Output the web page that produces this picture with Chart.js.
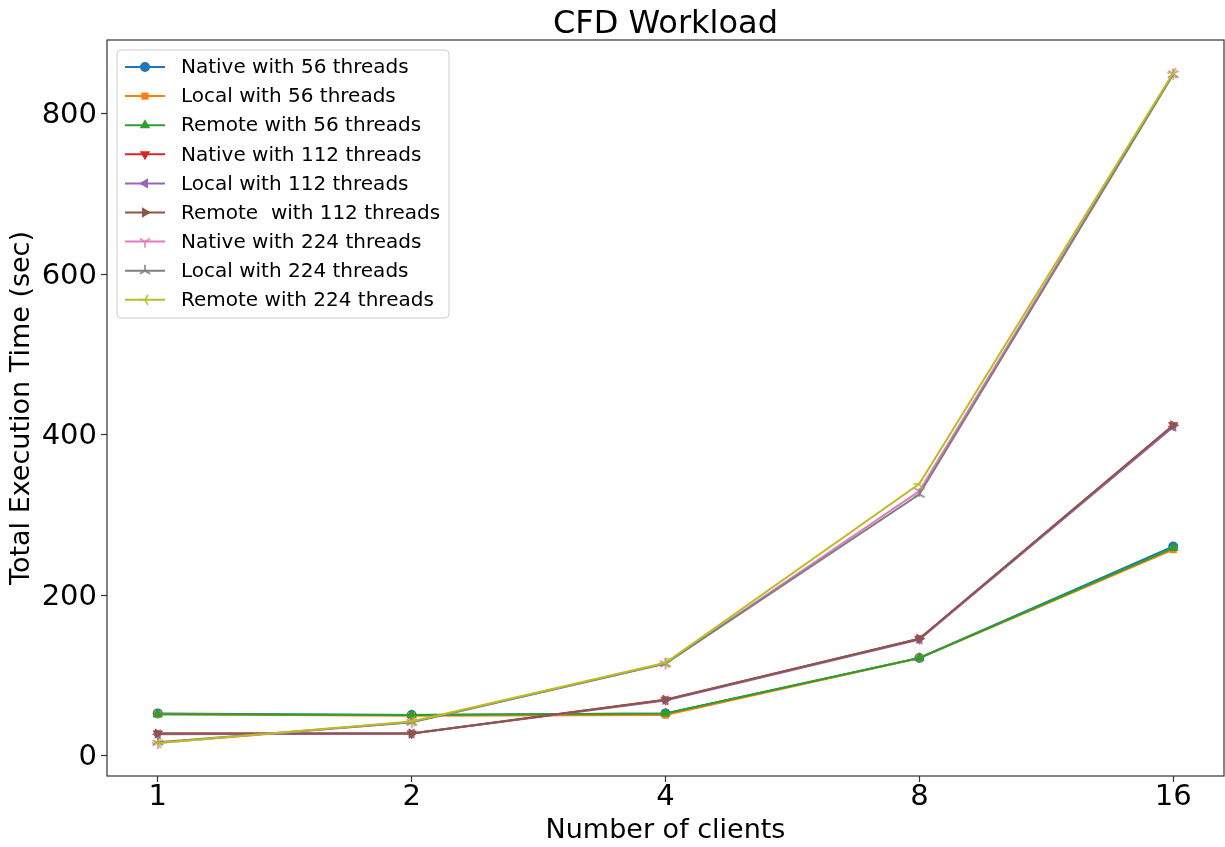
<!DOCTYPE html>
<html>
<head>
<meta charset="utf-8">
<script src="https://cdn.jsdelivr.net/npm/chart.js@4/dist/chart.umd.min.js"></script>
<style>
html,body{margin:0;padding:0;background:#fff;}
#wrap{width:1225px;height:847px;}
</style>
</head>
<body>
<div id="wrap"><canvas id="c" width="1225" height="847"></canvas></div>
<script>
const categories = ['1', '2', '4', '8', '16'];
const yTicks = [0, 200, 400, 600, 800];
const seriesLabels = [
  'Native with 56 threads', 'Local with 56 threads', 'Remote with 56 threads',
  'Native with 112 threads', 'Local with 112 threads', 'Remote  with 112 threads',
  'Native with 224 threads', 'Local with 224 threads', 'Remote with 224 threads'
];
const native56  = [53, 51, 53, 122, 261];
const local56   = [52, 50, 51, 122, 257];
const remote56  = [52, 51, 53, 122, 259];
const native112 = [28, 28, 70, 146, 412];
const local112  = [27, 28, 69, 145, 410];
const remote112 = [28, 28, 70, 146, 412];
const native224 = [16, 42, 115, 330, 850];
const local224  = [17, 42, 115, 326, 849];
const remote224 = [16, 43, 116, 339, 851];

const seriesValues = [native56, local56, remote56, native112, local112, remote112, native224, local224, remote224];
const colors = ['#1f77b4','#ff7f0e','#2ca02c','#d62728','#9467bd','#8c564b','#e377c2','#7f7f7f','#bcbd22'];

function triCanvas(color, dir) {
  const s = 16, c = document.createElement('canvas');
  c.width = s; c.height = s;
  const g = c.getContext('2d');
  g.strokeStyle = color; g.lineWidth = 1.5; g.lineCap = 'butt';
  const cx = s/2, cy = s/2, r = 6;
  let angles;
  if (dir === 'down') angles = [90, 210, 330];
  else if (dir === 'up') angles = [270, 30, 150];
  else angles = [180, 300, 60];
  g.beginPath();
  angles.forEach(a => {
    const rad = a * Math.PI / 180;
    g.moveTo(cx, cy);
    g.lineTo(cx + r*Math.cos(rad), cy + r*Math.sin(rad));
  });
  g.stroke();
  return c;
}

const markers = [
  {style:'circle', rot:0, r:5},
  {style:'rect', rot:0, r:5},
  {style:'triangle', rot:0, r:6},
  {style:'triangle', rot:180, r:6},
  {style:'triangle', rot:-90, r:6},
  {style:'triangle', rot:90, r:6},
  {style:triCanvas(colors[6],'down'), rot:0, r:6},
  {style:triCanvas(colors[7],'up'), rot:0, r:6},
  {style:triCanvas(colors[8],'left'), rot:0, r:6}
];

const datasets = seriesValues.map((vals, i) => ({
  label: seriesLabels[i],
  data: vals.map((v, j) => ({x: j, y: v})),
  borderColor: colors[i],
  backgroundColor: colors[i],
  borderWidth: 2,
  pointStyle: markers[i].style,
  rotation: markers[i].rot,
  pointRadius: markers[i].r,
  pointBorderWidth: 0,
  pointBackgroundColor: colors[i],
  pointBorderColor: colors[i],
  tension: 0,
  fill: false,
  order: seriesValues.length - i
}));

const FONT = "'DejaVu Sans', sans-serif";

const framePlugin = {
  id: 'frame',
  afterDatasetsDraw(chart) {
    const {ctx, chartArea: a} = chart;
    ctx.save();
    ctx.strokeStyle = '#333';
    ctx.lineWidth = 1.2;
    ctx.strokeRect(a.left, a.top, a.right - a.left, a.bottom - a.top);
    ctx.restore();
  },
  afterDraw(chart) {
    const {ctx, chartArea: a} = chart;
    ctx.save();
    ctx.fillStyle = '#000';
    ctx.font = "32px " + FONT;
    ctx.textAlign = 'center';
    ctx.textBaseline = 'alphabetic';
    ctx.fillText('CFD Workload', (a.left + a.right) / 2, 33);
    const bx = a.left + 10, by = a.top + 10, bw = 332, bh = 268;
    ctx.fillStyle = 'rgba(255,255,255,0.8)';
    ctx.strokeStyle = '#cccccc';
    ctx.lineWidth = 1;
    const rr = 4;
    ctx.beginPath();
    ctx.moveTo(bx + rr, by);
    ctx.arcTo(bx + bw, by, bx + bw, by + bh, rr);
    ctx.arcTo(bx + bw, by + bh, bx, by + bh, rr);
    ctx.arcTo(bx, by + bh, bx, by, rr);
    ctx.arcTo(bx, by, bx + bw, by, rr);
    ctx.closePath();
    ctx.fill(); ctx.stroke();
    ctx.font = "20px " + FONT;
    ctx.textAlign = 'left';
    ctx.textBaseline = 'middle';
    chart.data.datasets.forEach((ds, i) => {
      const y = by + 17 + i * 29.1;
      ctx.strokeStyle = ds.borderColor;
      ctx.lineWidth = 2;
      ctx.beginPath();
      ctx.moveTo(bx + 8, y); ctx.lineTo(bx + 48, y);
      ctx.stroke();
      ctx.fillStyle = ds.borderColor;
      Chart.helpers.drawPoint(ctx, {pointStyle: ds.pointStyle, rotation: ds.rotation, radius: ds.pointRadius, borderWidth: 0}, bx + 28, y);
      ctx.fillStyle = '#000';
      ctx.fillText(ds.label, bx + 64, y + 1);
    });
    ctx.restore();
  }
};

new Chart(document.getElementById('c'), {
  type: 'line',
  data: { datasets },
  options: {
    responsive: false,
    animation: false,
    layout: { autoPadding: false, padding: { top: 40, right: 1, left: 0, bottom: 0 } },
    plugins: { legend: { display: false }, title: { display: false }, tooltip: { enabled: false } },
    scales: {
      x: {
        type: 'linear',
        min: -0.2, max: 4.2,
        afterFit(s) { s.height = 71; s.paddingLeft = 0; s.paddingRight = 0; },
        afterBuildTicks(s) { s.ticks = categories.map((c, i) => ({value: i})); },
        ticks: {
          callback: (v) => categories[v],
          color: '#000', font: { family: FONT, size: 29 }, padding: -2, maxRotation: 0, autoSkip: false
        },
        grid: { drawOnChartArea: false, drawTicks: true, tickLength: 6, tickColor: '#333', tickWidth: 1.2 },
        border: { display: false },
        title: { display: true, text: 'Number of clients', color: '#000', font: { family: FONT, size: 27 }, padding: { top: 0, bottom: 0 } }
      },
      y: {
        type: 'linear',
        min: -25, max: 892,
        afterFit(s) { s.width = 107; },
        afterBuildTicks(s) { s.ticks = yTicks.map(v => ({value: v})); },
        ticks: { color: '#000', font: { family: FONT, size: 29 }, padding: 4, labelOffset: 2 },
        grid: { drawOnChartArea: false, drawTicks: true, tickLength: 6, tickColor: '#333', tickWidth: 1.2 },
        border: { display: false },
        title: { display: true, text: 'Total Execution Time (sec)', color: '#000', font: { family: FONT, size: 27 }, padding: { top: 6, bottom: 0 } }
      }
    }
  },
  plugins: [framePlugin]
});
</script>
</body>
</html>
